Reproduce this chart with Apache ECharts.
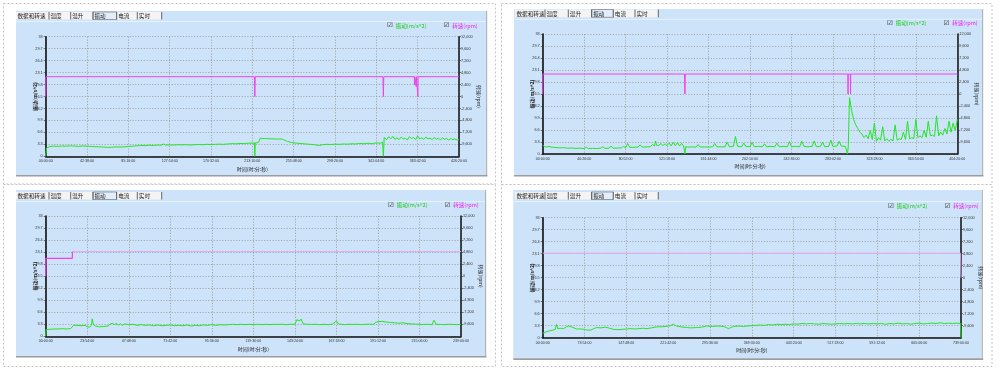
<!DOCTYPE html>
<html><head><meta charset="utf-8">
<script src="https://cdn.jsdelivr.net/npm/echarts@6/dist/echarts.min.js"></script>
<style>html,body{margin:0;padding:0;background:#fff;}#c{width:1000px;height:369px;}</style>
</head><body><div id="c"></div>
<script>
// ---------- data ----------
const TAB_NAMES = ['数据和转速','温度','温升','振动','电流','实时'];
const VIB_NAME = '振动(m/s^2)';
const RPM_NAME = '转速(rpm)';
const X_NAME = '时间(时:分:秒)';

const TICKS_TL = ['00:00:00','42:38:00','85:16:00','127:54:00','170:32:00','213:10:00','255:48:00','298:26:00','341:04:00','383:42:00','426:20:00'];
const TICKS_TR = ['00:00:00','40:26:00','80:52:00','121:18:00','161:44:00','202:10:00','242:36:00','283:02:00','323:28:00','363:54:00','404:20:00'];
const TICKS_BL = ['00:00:00','23:54:00','47:48:00','71:42:00','95:36:00','119:30:00','143:24:00','167:18:00','191:12:00','215:06:00','239:00:00'];
const TICKS_BR = ['00:00:00','73:54:00','147:48:00','221:42:00','295:36:00','369:30:00','443:24:00','517:18:00','591:12:00','665:06:00','739:00:00'];

// x in tick units (0..10), value in m/s^2
const VIB_TL = [[0,0],[0.02,2.3],[0.1,2.7],[0.2,2.8],[0.3,2.75],[0.4,2.85],[0.5,2.8],[0.6,2.9],[0.7,2.8],[0.8,2.75],[0.9,2.85],[1.0,2.8],[1.1,2.7],[1.2,2.65],[1.3,2.6],[1.4,2.55],[1.5,2.45],[1.6,2.5],[1.7,2.6],[1.8,2.55],[1.9,2.6],[2.0,2.7],[2.1,2.8],[2.2,2.9],[2.3,3.0],[2.4,2.95],[2.5,3.05],[2.6,3.0],[2.7,3.1],[2.8,3.05],[2.85,3.4],[2.9,3.1],[3.0,3.15],[3.1,3.1],[3.2,3.2],[3.3,3.15],[3.4,3.2],[3.5,3.1],[3.6,3.2],[3.7,3.25],[3.8,3.2],[3.9,3.3],[4.0,3.25],[4.1,3.3],[4.2,3.35],[4.3,3.3],[4.4,3.4],[4.5,3.5],[4.6,3.45],[4.7,3.55],[4.8,3.5],[4.9,3.6],[5.0,3.65],[5.05,3.7],[5.06,0],[5.07,3.7],[5.15,3.8],[5.19,5.0],[5.3,4.9],[5.4,4.85],[5.5,4.8],[5.6,4.75],[5.7,4.8],[5.75,4.6],[5.85,4.1],[5.95,3.8],[6.1,3.6],[6.3,3.4],[6.5,3.2],[6.6,3.0],[6.7,3.2],[6.8,3.3],[6.9,3.25],[7.0,3.35],[7.1,3.3],[7.2,3.4],[7.3,3.35],[7.4,3.45],[7.5,3.4],[7.6,3.55],[7.7,3.45],[7.8,3.6],[7.9,3.5],[8.0,3.7],[8.1,3.6],[8.15,3.9],[8.17,0],[8.19,5.2],[8.25,4.6],[8.3,5.4],[8.35,4.8],[8.4,5.5],[8.45,4.7],[8.5,5.1],[8.55,4.6],[8.6,5.3],[8.65,4.8],[8.7,5.0],[8.75,4.5],[8.8,5.4],[8.85,4.9],[8.9,5.2],[8.95,4.6],[9.0,5.6],[9.05,4.8],[9.1,5.1],[9.15,4.7],[9.2,5.3],[9.25,4.8],[9.3,5.0],[9.35,4.6],[9.4,5.2],[9.45,4.7],[9.5,5.0],[9.55,4.5],[9.6,5.1],[9.65,4.7],[9.7,4.9],[9.75,4.5],[9.8,4.9],[9.85,4.6],[9.9,4.8],[9.95,4.5],[10,4.6]];
const RPM_TL = [[0,0],[0.005,3970],[5.05,3970],[5.06,0],[5.07,3970],[8.16,3970],[8.17,0],[8.18,3970],[8.92,3970],[8.925,2300],[8.93,3970],[8.96,3970],[8.965,2000],[8.97,3970],[9.0,3970],[9.005,0],[9.01,3970],[10,3970]];

const VIB_TR = [[0,2.4],[0.05,2.0],[0.1,1.9],[0.15,2.1],[0.2,1.9],[0.3,1.8],[0.4,1.7],[0.5,1.75],[0.6,1.6],[0.7,1.65],[0.8,1.55],[0.9,1.6],[1.0,1.5],[1.05,1.9],[1.1,1.5],[1.2,1.55],[1.3,1.5],[1.4,1.6],[1.45,2.0],[1.5,1.55],[1.6,1.6],[1.65,2.2],[1.7,1.6],[1.8,1.65],[1.9,1.7],[1.95,2.1],[2.0,1.7],[2.05,2.9],[2.1,1.8],[2.2,1.85],[2.3,1.9],[2.35,2.5],[2.4,1.9],[2.5,1.95],[2.6,2.0],[2.65,2.6],[2.7,2.2],[2.72,3.6],[2.75,2.4],[2.8,2.3],[2.85,2.9],[2.9,2.3],[2.95,2.8],[3.0,2.3],[3.05,3.0],[3.1,2.2],[3.15,3.2],[3.2,2.3],[3.25,3.1],[3.3,2.2],[3.35,2.9],[3.4,2.2],[3.43,0],[3.45,2.0],[3.5,1.9],[3.6,1.95],[3.7,1.9],[3.75,2.6],[3.8,1.9],[3.9,1.95],[4.0,1.9],[4.1,2.0],[4.15,2.9],[4.2,2.0],[4.3,1.95],[4.4,2.0],[4.45,3.3],[4.5,2.0],[4.6,2.1],[4.65,4.8],[4.7,2.1],[4.8,2.0],[4.85,3.0],[4.9,2.1],[5.0,2.0],[5.05,3.2],[5.1,2.0],[5.2,2.1],[5.3,2.0],[5.35,2.8],[5.4,2.0],[5.5,2.1],[5.6,2.0],[5.65,3.0],[5.7,2.0],[5.8,2.1],[5.9,2.0],[5.95,3.4],[6.0,2.0],[6.1,2.1],[6.2,2.0],[6.25,3.5],[6.3,2.1],[6.4,2.0],[6.5,2.1],[6.55,3.6],[6.6,2.0],[6.7,2.1],[6.75,3.3],[6.8,2.0],[6.9,2.1],[6.95,3.8],[7.0,2.1],[7.1,2.2],[7.15,3.5],[7.2,2.2],[7.3,2.1],[7.35,0],[7.37,2.0],[7.4,15.5],[7.45,12.0],[7.5,9.5],[7.55,8.0],[7.6,7.0],[7.65,6.0],[7.7,5.5],[7.75,4.5],[7.8,5.2],[7.85,4.2],[7.9,6.5],[7.95,4.0],[8.0,8.5],[8.05,3.5],[8.1,4.5],[8.15,3.8],[8.2,7.5],[8.25,3.6],[8.3,4.2],[8.35,3.5],[8.4,4.0],[8.45,3.6],[8.5,8.0],[8.55,3.8],[8.6,4.2],[8.65,4.0],[8.7,6.0],[8.75,4.0],[8.8,9.0],[8.85,4.2],[8.9,4.5],[8.95,4.2],[9.0,9.5],[9.05,4.5],[9.1,5.0],[9.15,4.5],[9.2,6.5],[9.25,4.6],[9.3,9.0],[9.35,5.0],[9.4,5.2],[9.45,4.8],[9.5,10.5],[9.55,5.0],[9.6,6.0],[9.65,5.2],[9.7,7.0],[9.75,5.5],[9.8,9.0],[9.85,6.0],[9.9,8.5],[9.95,6.5],[10,9.5]];
const RPM_TR = [[0,0],[0.005,4000],[3.42,4000],[3.43,0],[3.44,4000],[7.36,4000],[7.365,0],[7.37,4000],[7.42,4000],[7.425,0],[7.43,4000],[10,4000]];

const VIB_BL = [[0,0],[0.01,1.9],[0.1,1.9],[0.2,2.0],[0.3,2.0],[0.4,2.1],[0.5,2.0],[0.6,2.1],[0.64,2.2],[0.67,3.0],[0.75,3.0],[0.85,2.9],[0.95,3.0],[1.0,2.6],[1.05,2.5],[1.1,3.0],[1.12,4.8],[1.15,3.2],[1.2,2.8],[1.3,2.6],[1.4,2.7],[1.5,2.8],[1.55,3.3],[1.6,3.6],[1.65,3.2],[1.7,3.5],[1.75,3.1],[1.8,3.4],[1.85,3.0],[1.9,3.4],[2.0,3.2],[2.1,3.3],[2.2,3.0],[2.3,3.2],[2.4,3.0],[2.5,3.1],[2.6,2.9],[2.7,3.1],[2.8,2.9],[2.9,3.0],[3.0,3.1],[3.1,2.9],[3.2,3.0],[3.3,2.9],[3.4,3.1],[3.5,2.8],[3.6,3.0],[3.7,2.9],[3.8,3.1],[3.9,3.0],[4.0,3.2],[4.1,3.0],[4.2,3.2],[4.3,3.1],[4.4,3.2],[4.5,3.3],[4.6,3.2],[4.7,3.3],[4.8,3.2],[4.9,3.3],[5.0,3.2],[5.1,3.3],[5.2,3.2],[5.3,3.3],[5.4,3.2],[5.5,3.3],[5.6,3.25],[5.7,3.3],[5.8,3.2],[5.9,3.3],[6.0,3.3],[6.05,4.6],[6.1,4.2],[6.15,4.7],[6.2,3.4],[6.3,3.3],[6.4,3.25],[6.5,3.3],[6.6,3.2],[6.7,3.3],[6.8,3.2],[6.9,3.3],[7.0,4.2],[7.05,3.4],[7.1,3.3],[7.2,3.2],[7.3,3.3],[7.4,3.25],[7.5,3.3],[7.6,3.2],[7.7,3.3],[7.8,3.3],[7.9,3.3],[7.95,3.9],[8.0,4.0],[8.1,4.1],[8.2,3.9],[8.3,3.8],[8.4,3.7],[8.5,3.6],[8.6,3.7],[8.7,3.5],[8.8,3.4],[8.9,3.35],[9.0,3.3],[9.1,3.25],[9.2,3.3],[9.3,3.2],[9.35,4.4],[9.4,3.3],[9.5,3.25],[9.6,3.2],[9.7,3.3],[9.8,3.25],[9.9,3.2],[10,3.3]];
const RPM_BL_START = [[0,0],[0.005,3560],[0.64,3560],[0.645,4900]];
const RPM_BL = [[0.645,4900],[10,4900]];

const VIB_BR = [[0,1.2],[0.08,1.6],[0.17,1.9],[0.25,2.1],[0.3,2.3],[0.33,3.7],[0.36,2.5],[0.42,2.6],[0.5,2.5],[0.57,3.0],[0.62,3.2],[0.68,3.0],[0.75,2.7],[0.81,2.4],[0.9,2.4],[1.0,2.3],[1.05,2.1],[1.15,2.1],[1.22,2.5],[1.29,2.8],[1.4,2.7],[1.5,2.9],[1.6,2.6],[1.69,2.3],[1.8,2.2],[1.9,2.3],[2.0,2.4],[2.09,2.5],[2.2,2.4],[2.3,2.5],[2.4,2.6],[2.49,2.5],[2.6,2.7],[2.73,3.0],[2.85,3.0],[2.95,3.1],[3.05,3.3],[3.12,3.7],[3.2,3.2],[3.3,3.0],[3.44,2.8],[3.55,2.7],[3.7,2.8],[3.8,2.9],[3.92,3.2],[4.05,3.1],[4.15,3.2],[4.24,3.2],[4.35,3.0],[4.44,2.5],[4.5,2.8],[4.56,3.1],[4.7,3.2],[4.8,3.1],[4.96,3.3],[5.1,3.4],[5.2,3.5],[5.3,3.4],[5.4,3.6],[5.5,3.5],[5.6,3.7],[5.7,3.6],[5.8,3.7],[5.9,3.6],[6.0,3.8],[6.1,3.7],[6.2,3.9],[6.3,3.8],[6.4,3.9],[6.5,3.8],[6.6,3.7],[6.7,3.9],[6.8,3.8],[6.9,3.7],[7.0,3.8],[7.1,3.9],[7.2,3.8],[7.3,3.9],[7.4,3.8],[7.5,3.9],[7.6,3.8],[7.7,3.9],[7.8,3.8],[7.9,3.9],[8.0,3.8],[8.1,3.9],[8.2,3.7],[8.3,3.9],[8.4,3.8],[8.5,4.0],[8.6,3.8],[8.7,3.9],[8.8,3.7],[8.9,3.9],[9.0,4.0],[9.1,3.8],[9.2,3.9],[9.3,4.0],[9.4,3.9],[9.5,4.1],[9.6,3.9],[9.7,4.0],[9.8,3.9],[9.9,4.0],[9.99,3.9],[10,0]];
const RPM_BR = [[0,4900],[9.99,4900],[10,0]];

// ---------- layout ----------
const PANELS = [
  {border:[3.5,3.5,492,180.5], blue:[16,11,470,164], grid:[45.7,36.7,413.3,119.6], tabs:[16,12,7.5,[33,21.7,22.3,23.7,20.6,24.4]], legend:[382,26.7], ticks:TICKS_TL},
  {border:[501.5,3.5,490.5,181], blue:[514,9,468,166], grid:[542.7,34,414.6,120], tabs:[515,9.5,7.8,[30,23.3,23.4,21.6,21.7,23.3]], legend:[882,24.3], ticks:TICKS_TR},
  {border:[3.5,184.5,492,182], blue:[16,190,469,166], grid:[45.7,216,415.3,120.3], tabs:[16,192,7.5,[33,21.7,22.3,23.7,20.6,24.4]], legend:[383,206], ticks:TICKS_BL},
  {border:[501.5,184.5,490.5,182], blue:[513.3,190,468.4,168.3], grid:[542.7,217.7,418.3,120], tabs:[515,192,7.5,[30,23.3,23.4,21.6,21.7,23.3]], legend:[883,207], ticks:TICKS_BR}
];
const VIB_DATA = [VIB_TL, VIB_TR, VIB_BL, VIB_BR];
const GREEN = '#22e622', MAGENTA = '#f040f0', PALE_MAG = '#e4a8f0';
const BLUE = '#cde3f9';
const NUM_FONT = 'Liberation Sans, Arial, sans-serif';
const CJK_FONT = 'Noto Sans CJK SC, sans-serif';

const graphics = [];
const grids = [], xAxes = [], yAxes = [], series = [], legends = [];

PANELS.forEach((p, k) => {
  const [bx,by,bw,bh] = p.border;
  graphics.push({type:'rect', z:-100, shape:{x:bx,y:by,width:bw,height:bh}, style:{fill:'#fff', stroke:'#c4c4c4', lineWidth:1, lineDash:[2,2]}});
  const [ux,uy,uw,uh] = p.blue;
  graphics.push({type:'rect', z:-99, shape:{x:ux,y:uy,width:uw,height:uh}, style:{fill:BLUE}});
  graphics.push({type:'rect', z:-99, shape:{x:ux,y:uy+uh,width:uw+1.5,height:1.6}, style:{fill:'#9c9c9c'}});
  graphics.push({type:'rect', z:-99, shape:{x:ux+uw,y:uy,width:1.2,height:uh}, style:{fill:'#b4b4b4'}});
  graphics.push({type:'line', z:-98, shape:{x1:ux,y1:p.tabs[1]+p.tabs[2]+2,x2:ux+uw,y2:p.tabs[1]+p.tabs[2]+2}, style:{stroke:'#e6f1fc', lineWidth:1}});
  // tabs
  let tx = p.tabs[0];
  const ty = p.tabs[1], th = p.tabs[2];
  p.tabs[3].forEach((w, i) => {
    const sel = i === 3;
    graphics.push({type:'rect', z:-97, shape:{x:tx,y:ty,width:w,height:th}, style:{fill: sel ? '#e2eefb' : '#f4f4f4', stroke: sel ? '#666' : null, lineWidth: sel ? 0.6 : 0}});
    graphics.push({type:'line', z:-96, shape:{x1:tx+w,y1:ty,x2:tx+w,y2:ty+th}, style:{stroke:'#444', lineWidth:0.8}});
    graphics.push({type:'text', z:50, x:tx+1.5, y:ty+th/2+0.3, style:{text:TAB_NAMES[i], fontSize:5.6, fontFamily:CJK_FONT, fill:'#222', verticalAlign:'middle', align:'left'}});
    tx += w;
  });

  const [gl,gt,gw,gh] = p.grid;
  grids.push({left:gl, top:gt, width:gw, height:gh, containLabel:false, show:false});
  const ticks = p.ticks;
  xAxes.push({type:'value', gridIndex:k, min:0, max:10, interval:1,
    axisLine:{show:true, onZero:false, lineStyle:{color:'#111', width:1.5}},
    axisTick:{show:false},
    axisLabel:{fontSize:3.6, fontFamily:NUM_FONT, color:'#333', margin:3, formatter:v => ticks[Math.round(v)] ?? ''},
    splitLine:{show:true, lineStyle:{color:'#9a9a9a', type:[1.2,1.6], width:0.8}},
    name:X_NAME, nameLocation:'middle', nameGap:10, nameMoveOverlap:false, nameTextStyle:{fontSize:5, fontFamily:CJK_FONT, color:'#222'}});
  yAxes.push({type:'value', gridIndex:k, position:'left', min:0, max:33, interval:3.3,
    axisLine:{show:true, lineStyle:{color:'#111', width:1.6}},
    axisTick:{show:true, length:2, lineStyle:{color:'#333', width:0.6}},
    axisLabel:{fontSize:3.8, fontFamily:NUM_FONT, color:'#333', margin:3, formatter:v => String(Math.round(v*10)/10)},
    splitLine:{show:true, lineStyle:{color:'#9a9a9a', type:[1.2,1.6], width:0.8}},
    name:VIB_NAME, nameLocation:'middle', nameRotate:90, nameGap:8, nameMoveOverlap:false, nameTextStyle:{fontSize:5, fontFamily:CJK_FONT, color:'#222', fontWeight:'bold'}});
  yAxes.push({type:'value', gridIndex:k, position:'right', min:-12000, max:12000, interval:2400,
    axisLine:{show:true, lineStyle:{color:'#111', width:1.5}},
    axisTick:{show:true, length:2, lineStyle:{color:'#333', width:0.6}},
    axisLabel:{fontSize:3.8, fontFamily:NUM_FONT, color:'#333', margin:2, showMinLabel:false, formatter:v => v.toLocaleString('en-US')},
    splitLine:{show:false},
    name:RPM_NAME, nameLocation:'middle', nameRotate:-90, nameGap:17, nameMoveOverlap:false, nameTextStyle:{fontSize:5, fontFamily:CJK_FONT, color:'#222'}});

  series.push({name:VIB_NAME, type:'line', xAxisIndex:k, yAxisIndex:2*k, data:VIB_DATA[k], showSymbol:false, lineStyle:{color:GREEN, width:1}, itemStyle:{color:GREEN}, z:3, animation:false});

  // legends
  const [lx, ly] = p.legend;
  [[VIB_NAME, '#11cc11', lx], [RPM_NAME, '#ee22ee', lx+56.5]].forEach(([nm, col, x0]) => {
    legends.push({left:x0, top:ly-4.5, selectedMode:false, itemWidth:0, itemHeight:0, itemGap:0, padding:0,
      data:[{name:nm, icon:'none'}],
      formatter: n => '{c|☑}{t|' + n + '}',
      textStyle:{rich:{c:{fontSize:6.5, fontFamily:'DejaVu Sans', color:'#222'}, t:{fontSize:5.5, fontFamily:CJK_FONT, color:col, padding:[0,0,0,3]}}}});
  });
});

// rpm series
series.push({name:RPM_NAME, type:'line', xAxisIndex:0, yAxisIndex:1, data:RPM_TL, showSymbol:false, lineStyle:{color:MAGENTA, width:1}, itemStyle:{color:MAGENTA}, z:4, animation:false});
series.push({name:RPM_NAME, type:'line', xAxisIndex:1, yAxisIndex:3, data:RPM_TR, showSymbol:false, lineStyle:{color:MAGENTA, width:1}, itemStyle:{color:MAGENTA}, z:4, animation:false});
series.push({name:RPM_NAME, type:'line', xAxisIndex:2, yAxisIndex:5, data:RPM_BL_START, showSymbol:false, lineStyle:{color:MAGENTA, width:1.2}, itemStyle:{color:MAGENTA}, z:4, animation:false});
series.push({name:RPM_NAME, type:'line', xAxisIndex:2, yAxisIndex:5, data:RPM_BL, showSymbol:false, lineStyle:{color:PALE_MAG, width:1}, itemStyle:{color:MAGENTA}, z:4, animation:false});
series.push({name:RPM_NAME, type:'line', xAxisIndex:3, yAxisIndex:7, data:RPM_BR, showSymbol:false, lineStyle:{color:PALE_MAG, width:1}, itemStyle:{color:MAGENTA}, z:4, animation:false});

const chart = echarts.init(document.getElementById('c'), null, {renderer:'canvas'});
chart.setOption({
  backgroundColor:'#ffffff',
  animation:false,
  graphic:{elements:graphics},
  grid:grids, xAxis:xAxes, yAxis:yAxes, legend:legends, series:series
});
</script>
</body></html>
